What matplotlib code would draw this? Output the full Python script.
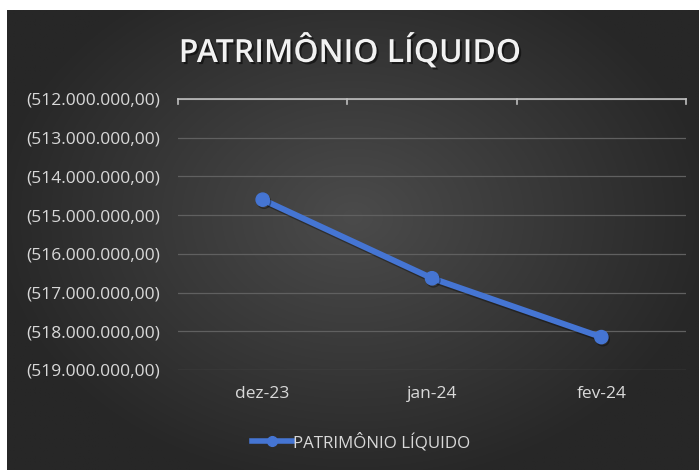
import numpy as np
import matplotlib
matplotlib.use('Agg')
from matplotlib import pyplot as plt
from matplotlib import patheffects as pe
from matplotlib.ticker import FuncFormatter, MultipleLocator
from matplotlib.lines import Line2D

# dados
meses = ['dez-23', 'jan-24', 'fev-24']
patrimonio = [-514_600_000, -516_630_000, -518_150_000]
titulo = 'PATRIMÔNIO LÍQUIDO'

cor_linha = '#4575d3'
cor_texto = '#d9d9d9'
cor_grade = '#606060'

plt.rcParams['font.family'] = ['Open Sans', 'DejaVu Sans']

fig = plt.figure(figsize=(6.99, 4.70), dpi=100, facecolor='white')

# fundo com degrade radial (estilo excel escuro)
fundo = fig.add_axes([7 / 699, 0, 1 - 7 / 699, 460 / 470])
fundo.set_axis_off()
yy, xx = np.mgrid[0:1:300j, 0:1:450j]
dist = np.sqrt(((xx - 0.5) / 0.75) ** 2 + ((yy - 0.55) / 0.85) ** 2)
dist = np.clip(dist / 0.7, 0, 1)
c_centro = np.array([0x4b, 0x4b, 0x4b]) / 255
c_borda = np.array([0x27, 0x27, 0x27]) / 255
img = c_centro[None, None, :] * (1 - dist[..., None]) + c_borda[None, None, :] * dist[..., None]
fundo.imshow(img, extent=(0, 1, 0, 1), aspect='auto', origin='lower')
fundo.set_xlim(0, 1)
fundo.set_ylim(0, 1)

ax = fig.add_axes([178 / 699, 1 - 370 / 470, (686 - 178) / 699, (370 - 99) / 470])
ax.patch.set_alpha(0)

x = np.arange(len(meses))
ax.plot(x, patrimonio, color=cor_linha, linewidth=4.3, marker='o', markersize=9.5,
        solid_capstyle='round', zorder=3,
        path_effects=[pe.SimpleLineShadow(offset=(1, -1.5), shadow_color='black', alpha=0.35), pe.Normal()])

ax.set_xlim(-0.5, len(meses) - 0.5)
ax.set_ylim(-519_000_000, -512_000_000)
ax.yaxis.set_major_locator(MultipleLocator(1_000_000))


def formato(v, pos):
    s = '{:,.2f}'.format(abs(v)).replace(',', 'X').replace('.', ',').replace('X', '.')
    return '(' + s + ')' if v < 0 else s


ax.yaxis.set_major_formatter(FuncFormatter(formato))
ax.grid(axis='y', color=cor_grade, linewidth=0.9)
ax.tick_params(axis='y', length=0, colors=cor_texto, labelsize=12.5, pad=13)

# eixo de categorias desenhado no topo, rotulos embaixo
ax.set_xticks([])
for lado in ['left', 'right', 'bottom']:
    ax.spines[lado].set_visible(False)
ax.spines['top'].set_color('#bfbfbf')
ax.spines['top'].set_linewidth(1.2)
for xt in [-0.5, 0.5, 1.5, 2.5]:
    ax.plot([xt, xt], [-512_000_000, -512_130_000], color='#bfbfbf', linewidth=1.2, clip_on=False)
for i, m in enumerate(meses):
    ax.text(i, -519_620_000, m, ha='center', va='center', color=cor_texto, fontsize=12.5)

fig.text(350 / 699, 1 - 52 / 470, titulo, ha='center', va='center', color='#f2f2f2',
         fontsize=23, fontweight='semibold',
         path_effects=[pe.withSimplePatchShadow(offset=(1.5, -1.5), shadow_rgbFace='black', alpha=0.5)])

handle = Line2D([], [], color=cor_linha, linewidth=4, marker='o', markersize=7)
fig.legend([handle], [titulo], loc='center', bbox_to_anchor=(361 / 699, 1 - 442 / 470),
           frameon=False, fontsize=12.2, labelcolor=cor_texto, handlelength=2.4, handletextpad=0.0)

fig.savefig('out.png', dpi=100)
